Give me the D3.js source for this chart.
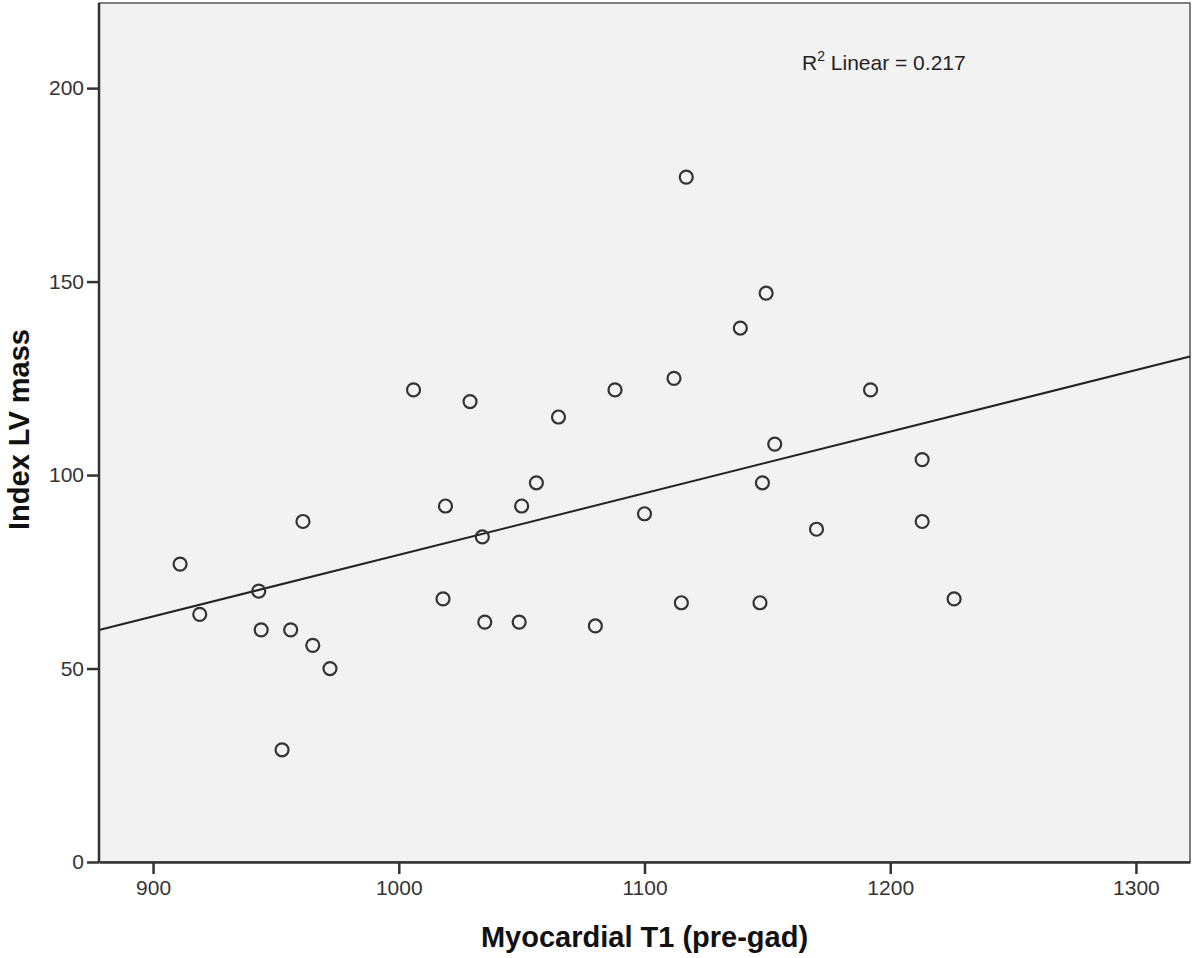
<!DOCTYPE html>
<html>
<head>
<meta charset="utf-8">
<script src="https://cdn.jsdelivr.net/npm/d3@7"></script>
<style>
  body { margin: 0; background: #fff; }
  text { font-family: "Liberation Sans", Arial, sans-serif; }
</style>
</head>
<body>
<div id="chart"></div>
<script>
// values
const t1 = [911, 919, 943, 944, 956, 961, 965, 972, 952.5, 1006, 1019, 1018, 1029, 1034, 1035, 1049, 1050, 1056, 1065, 1080, 1088, 1100, 1112, 1115, 1117, 1139, 1147, 1148, 1153, 1149.5, 1170, 1192, 1213, 1213, 1226];
const lvMass = [77, 64, 70, 60, 60, 88, 56, 50, 29, 122, 92, 68, 119, 84, 62, 62, 92, 98, 115, 61, 122, 90, 125, 67, 177, 138, 67, 98, 108, 147, 86, 122, 104, 88, 68];
const xTicks = [900, 1000, 1100, 1200, 1300];
const yTicks = [0, 50, 100, 150, 200];
const xDomain = [878, 1322];
const yDomain = [0, 222];

const width = 1200, height = 958;
const margin = { top: 3, right: 10, bottom: 96, left: 99 };
const innerW = width - margin.left - margin.right;
const innerH = height - margin.top - margin.bottom;

const svg = d3.select("#chart").append("svg")
  .attr("width", width)
  .attr("height", height);

const g = svg.append("g")
  .attr("transform", `translate(${margin.left}, ${margin.top})`);

const x = d3.scaleLinear().domain(xDomain).range([0, innerW]);
const y = d3.scaleLinear().domain(yDomain).range([innerH, 0]);

// plot background + frame
g.append("rect")
  .attr("width", innerW)
  .attr("height", innerH)
  .attr("fill", "#f2f2f2")
  .attr("stroke", "#555")
  .attr("stroke-width", 1.5);

// least squares fit line
const data = t1.map((v, i) => ({ x: v, y: lvMass[i] }));
const mx = d3.mean(data, d => d.x), my = d3.mean(data, d => d.y);
const slope = d3.sum(data, d => (d.x - mx) * (d.y - my)) / d3.sum(data, d => (d.x - mx) ** 2);
const icpt = my - slope * mx;

g.append("line")
  .attr("x1", x(xDomain[0]))
  .attr("y1", y(icpt + slope * xDomain[0]))
  .attr("x2", x(xDomain[1]))
  .attr("y2", y(icpt + slope * xDomain[1]))
  .attr("stroke", "#222")
  .attr("stroke-width", 2);

g.selectAll("circle")
  .data(data)
  .join("circle")
  .attr("cx", d => x(d.x))
  .attr("cy", d => y(d.y))
  .attr("r", 6.5)
  .attr("fill", "none")
  .attr("stroke", "#333")
  .attr("stroke-width", 2.2);

// axes
const xAxis = g.append("g")
  .attr("transform", `translate(0, ${innerH})`)
  .call(d3.axisBottom(x).tickValues(xTicks).tickFormat(d3.format("d")).tickSize(12).tickPadding(6).tickSizeOuter(0));

const yAxis = g.append("g")
  .call(d3.axisLeft(y).tickValues(yTicks).tickFormat(d3.format("d")).tickSize(12).tickPadding(3).tickSizeOuter(0));

[xAxis, yAxis].forEach(a => {
  a.select(".domain").attr("stroke", "#333").attr("stroke-width", 2.5);
  a.selectAll(".tick line").attr("stroke", "#333").attr("stroke-width", 2.5);
  a.selectAll(".tick text")
    .attr("fill", "#333")
    .style("font-size", "21px")
    .style("font-family", "'Liberation Sans', Arial, sans-serif");
});
yAxis.select(".domain").attr("d", `M0,0V${innerH}`);

// R squared note
const note = g.append("text")
  .attr("x", 703)
  .attr("y", 67)
  .attr("fill", "#222")
  .style("font-size", "21px");
note.append("tspan").text("R");
note.append("tspan").attr("dy", -9).style("font-size", "14px").text("2");
note.append("tspan").attr("dy", 9).text(" Linear = 0.217");

// axis titles
g.append("text")
  .attr("x", x(1100))
  .attr("y", innerH + 85)
  .attr("text-anchor", "middle")
  .attr("fill", "#111")
  .style("font-size", "29px")
  .style("font-weight", "bold")
  .text("Myocardial T1 (pre-gad)");

g.append("text")
  .attr("transform", "rotate(-90)")
  .attr("x", -innerH / 2 + 3)
  .attr("y", -70)
  .attr("text-anchor", "middle")
  .attr("fill", "#111")
  .style("font-size", "29px")
  .style("font-weight", "bold")
  .text("Index LV mass");
</script>
</body>
</html>
